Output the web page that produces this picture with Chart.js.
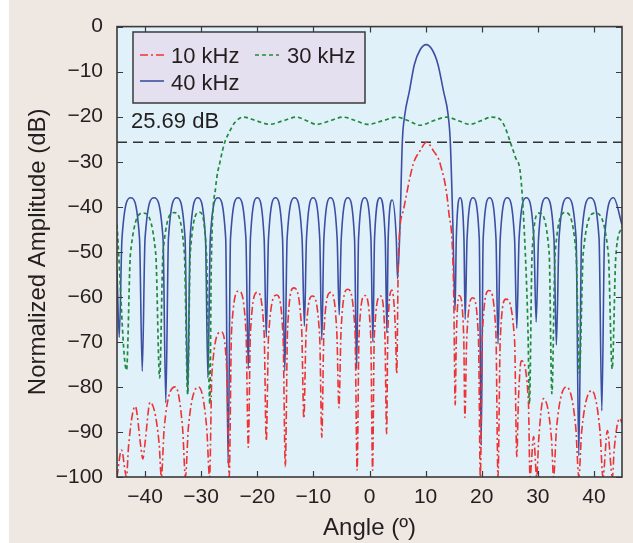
<!DOCTYPE html>
<html>
<head>
<meta charset="utf-8">
<script src="https://cdn.jsdelivr.net/npm/chart.js@4.4.1/dist/chart.umd.min.js"></script>
<style>
  html, body { margin: 0; padding: 0; background: #fff; }
  #wrap { width: 633px; height: 543px; }
</style>
</head>
<body>
<div id="wrap"><canvas id="chart" width="633" height="543"></canvas></div>
<script>
// 10 kHz (rouge, tiret-point)
const angle10 = [-45, -44.2, -43.3, -42.95, -41.75, -40.75, -40.4, -40.0, -39.1, -37.5, -37.1,
    -36.58, -34.6, -33.32, -32.8, -32.28, -30.45, -29.02, -28.5, -28.08, -26.45, -25.42, -25.0,
    -24.59, -23.3, -22.01, -21.6, -21.22, -20.0, -18.78, -18.4, -17.99, -16.55, -15.41, -15.0,
    -14.6, -13.5, -12.1, -11.7, -11.32, -10.2, -8.88, -8.5, -8.13, -6.95, -5.82, -5.45,
    -5.06, -3.9, -2.59, -2.2, -1.87, -0.85, 0.22, 0.55, 0.85, 1.95, 2.75, 3.05,
    3.27, 4.0, 4.63, 4.85, 5.15, 6.05, 7.8, 9.0, 10.15, 11.4, 12.6, 14.1, 15.0, 15.27,
    15.48, 16.0, 16.79, 17.0, 17.33, 18.4, 19.42, 19.75, 20.13, 21.3, 22.52, 22.9,
    23.3, 24.3, 25.85, 26.25, 26.53, 27.05, 28.32, 28.6, 29.25, 29.8, 30.16, 31.0, 32.44, 32.8,
    33.34, 35.1, 36.76, 37.3, 37.82, 39.6, 41.08, 41.6, 42.4, 43.3, 43.6, 44.6, 45];
const db10 = [-100, -94, -100, -93.3, -84.3, -93.3, -96, -92.4, -83.4, -92.4, -100,
    -89, -80, -89, -100, -89, -80, -89, -100, -76.8, -67.8, -76.8, -100,
    -67.7, -58.7, -67.7, -93.4, -68, -59, -68, -92, -68.6, -59.6, -68.6, -97.7,
    -67, -58, -67, -87, -68.8, -59.8, -68.8, -91.2, -68, -59, -68, -84.6,
    -67.3, -58.3, -67.3, -98.5, -68.7, -59.7, -68.7, -98.5, -68.8, -59.8, -68.8, -90.4,
    -67.5, -58.5, -67.5, -77, -51, -40.7, -30.5, -27.6, -25.69, -27.6, -30.5, -40.9, -58.5, -84,
    -68.7, -59.7, -68.7, -86.8, -69.2, -60.2, -69.2, -100, -67.6, -58.6, -67.6, -100,
    -69.5, -60.5, -69.5, -95.5, -83.2, -74.2, -83.2, -100, -91, -100, -91.6, -82.6, -91.6, -100,
    -89, -80, -89, -100, -89.8, -80.8, -89.8, -100, -89.7, -100, -94, -87, -88];

// 30 kHz (vert, pointillé)
const angle30 = [-45, -43.3, -42.6, -40.3, -38.1, -37.4, -36.8, -34.8, -33.0, -32.4,
    -31.94, -30.3, -29.06, -28.45, -28.2, -27.4, -26.6, -25.8, -24.9, -24.0,
    -22.5, -20.2, -17.8, -15.4, -13.0, -11.2, -9.4, -7.05, -4.7, -2.45, -0.2,
    2.35, 4.9, 6.95, 9.0, 11.4, 13.8, 15.85, 17.9, 19.85, 21.8,
    23.3, 24.2, 25.1, 26.0, 26.9, 27.6, 28.25, 28.5, 28.98, 30.2, 32.02, 32.5,
    33.09, 34.9, 36.81, 37.4, 38.1, 40.2, 42.55, 43.25, 43.9, 45];
const db30 = [-44, -76.3, -50.4, -41.4, -50.4, -78, -50.2, -41.3, -50.2, -81.6,
    -50.2, -41.2, -50.2, -83.8, -53, -35.5, -29.8, -25.7, -23.2, -21.3,
    -20.1, -20.9, -21.7, -20.9, -20.1, -20.9, -21.7, -20.9, -20.1, -20.9, -21.7,
    -20.9, -20.1, -20.9, -21.9, -20.9, -20.1, -20.9, -21.7, -20.9, -20.1,
    -20.6, -22.5, -25.7, -29, -32.7, -45.8, -67.8, -83.8, -50.2, -41.4, -50.2, -81.5,
    -50.2, -41.3, -50.2, -77, -50.2, -41.4, -50.2, -76, -51, -44.4];

// 40 kHz (bleu, trait plein)
const angle40 = [-45, -44.6, -44.11, -42.55, -40.99, -40.5, -40.0, -38.4, -36.8, -36.3,
    -35.83, -34.35, -32.87, -32.4, -31.97, -30.6, -29.23, -28.8, -28.37, -27, -25.63, -25.2,
    -24.77, -23.4, -22.03, -21.6, -21.22, -20, -18.78, -18.4, -18.0, -16.75, -15.5, -15.1,
    -14.68, -13.35, -12.02, -11.6, -11.23, -10.05, -8.87, -8.5, -8.13, -6.95, -5.77, -5.4,
    -5.03, -3.85, -2.67, -2.3, -1.95, -0.85, 0.25, 0.6, 0.9, 1.85, 2.8, 3.1,
    3.33, 4.05, 4.77, 5.0, 5.45, 5.85, 6.3, 7.1, 8.0, 9.0, 10.1, 11.2, 12.2, 13.2, 14.0, 14.4, 14.85, 15.25,
    15.47, 16.15, 16.83, 17.05, 17.39, 18.45, 19.56, 19.9, 20.26, 21.4, 22.54, 22.9,
    23.3, 24.55, 25.85, 26.25, 26.66, 27.95, 29.29, 29.7, 30.13, 31.5, 32.87, 33.3,
    33.78, 35.3, 36.82, 37.3, 37.79, 39.35, 40.91, 41.4, 41.89, 43.5, 45];
const db40 = [-54, -69, -47, -38, -47, -76.5, -47, -38, -47, -83.5,
    -47, -38, -47, -81.6, -47, -38, -47, -78, -47, -38, -47, -97,
    -47, -38, -47, -76, -47, -38, -47, -69, -47, -38, -47, -76.5,
    -47, -38, -47, -66.5, -47, -38, -47, -69.6, -47, -38, -47, -64,
    -47, -38, -47, -76, -47, -38, -47, -70, -47, -38, -47, -68,
    -47, -38.5, -47, -56, -43.6, -25.6, -19.5, -14.4, -8.4, -5.2, -4, -5.2, -8.4, -14.4, -19.5, -25.6, -43.6, -63,
    -47, -38, -47, -65, -47, -38, -47, -93, -47, -38, -47, -70.5,
    -47, -38, -47, -67, -47, -38, -47, -65.6, -47, -38, -47, -70.7,
    -47, -38, -47, -95.3, -47, -38, -47, -85.3, -47, -38, -44];

// ligne de référence 25.69 dB
const refAngle = [-45, 45];
const refDb = [-25.69, -25.69];

// graduations
const xTicks = [-40, -30, -20, -10, 0, 10, 20, 30, 40];
const yTicks = [-100, -90, -80, -70, -60, -50, -40, -30, -20, -10, 0];

const legendLabels = ['10 kHz', '30 kHz', '40 kHz'];
const refLabel = '25.69 dB';

const RED = '#ee3333', GREEN = '#1f8a3e', BLUE = '#3d4fa3';
const FONT = '"Liberation Sans", Arial, Helvetica, sans-serif';
const TEXT = '#231f20';

const toPoints = (xs, ys) => xs.map((x, i) => ({ x: x, y: ys[i] }));
const minus = v => (v < 0 ? '\u2212' + Math.abs(v) : String(v));

// fond, cadre, ticks intérieurs, légende, annotation
const decor = {
    id: 'decor',
    beforeDraw(chart) {
        const { ctx, chartArea: a, width, height } = chart;
        ctx.save();
        ctx.fillStyle = '#ffffff';
        ctx.fillRect(0, 0, width, height);
        ctx.fillStyle = '#efe8e2';
        ctx.fillRect(9, 0, width - 9, height);
        ctx.fillStyle = '#e0f1fa';
        ctx.fillRect(a.left, a.top, a.right - a.left, a.bottom - a.top);
        ctx.restore();
    },
    afterDatasetsDraw(chart) {
        const { ctx, chartArea: a, scales } = chart;
        ctx.save();
        ctx.strokeStyle = '#3a3a3a';
        ctx.lineWidth = 1.2;
        ctx.beginPath();
        scales.x.ticks.forEach(t => {
            const px = Math.round(scales.x.getPixelForValue(t.value)) + 0.5;
            ctx.moveTo(px, a.bottom); ctx.lineTo(px, a.bottom - 6);
            ctx.moveTo(px, a.top); ctx.lineTo(px, a.top + 6);
        });
        scales.y.ticks.forEach(t => {
            const py = Math.round(scales.y.getPixelForValue(t.value)) + 0.5;
            ctx.moveTo(a.left, py); ctx.lineTo(a.left + 6, py);
            ctx.moveTo(a.right, py); ctx.lineTo(a.right - 6, py);
        });
        ctx.stroke();
        ctx.lineWidth = 1.6;
        ctx.strokeRect(a.left, a.top, a.right - a.left, a.bottom - a.top);
        ctx.restore();
    },
    afterDraw(chart) {
        const { ctx } = chart;
        ctx.save();
        // boîte de légende
        ctx.fillStyle = '#e4e0ef';
        ctx.fillRect(133, 32, 232, 71);
        ctx.strokeStyle = '#3a3a3a';
        ctx.lineWidth = 1.5;
        ctx.strokeRect(133, 32, 232, 71);

        const sample = (x0, x1, y, color, dash) => {
            ctx.strokeStyle = color;
            ctx.lineWidth = 1.6;
            ctx.setLineDash(dash);
            ctx.beginPath();
            ctx.moveTo(x0, y); ctx.lineTo(x1, y);
            ctx.stroke();
            ctx.setLineDash([]);
        };
        sample(140, 164, 55, RED, [8, 3, 2, 3]);
        sample(255, 279, 55, GREEN, [4, 3]);
        sample(140, 164, 81, BLUE, []);

        ctx.fillStyle = TEXT;
        ctx.font = '22px ' + FONT;
        ctx.textBaseline = 'alphabetic';
        ctx.fillText(legendLabels[0], 171, 63);
        ctx.fillText(legendLabels[1], 287, 63);
        ctx.fillText(legendLabels[2], 171, 90);
        ctx.fillText(refLabel, 131, 128);
        ctx.restore();
    }
};

const chart = new Chart(document.getElementById('chart'), {
    type: 'line',
    data: {
        datasets: [
            {
                label: legendLabels[0],
                data: toPoints(angle10, db10),
                borderColor: RED,
                borderWidth: 1.6,
                borderDash: [8, 3, 2, 3],
                order: 0
            },
            {
                label: legendLabels[1],
                data: toPoints(angle30, db30),
                borderColor: GREEN,
                borderWidth: 1.7,
                borderDash: [4, 3],
                order: 1
            },
            {
                label: legendLabels[2],
                data: toPoints(angle40, db40),
                borderColor: BLUE,
                borderWidth: 1.6,
                order: 2
            },
            {
                label: refLabel,
                data: toPoints(refAngle, refDb),
                borderColor: '#333333',
                borderWidth: 1.5,
                borderDash: [10, 6],
                cubicInterpolationMode: 'default',
                tension: 0,
                order: 3
            }
        ]
    },
    options: {
        responsive: false,
        animation: false,
        events: [],
        layout: { padding: { left: 0, top: 21, right: 11, bottom: 0 } },
        elements: {
            point: { radius: 0 },
            line: { cubicInterpolationMode: 'monotone', fill: false }
        },
        plugins: {
            legend: { display: false },
            tooltip: { enabled: false }
        },
        scales: {
            x: {
                type: 'linear',
                min: -45,
                max: 45,
                afterBuildTicks: s => { s.ticks = xTicks.map(v => ({ value: v })); },
                afterFit: s => { s.height = 66; },
                grid: { display: false, drawTicks: false },
                border: { display: false },
                ticks: {
                    maxRotation: 0,
                    autoSkip: false,
                    padding: 8,
                    color: TEXT,
                    font: { family: FONT, size: 21 },
                    callback: v => minus(v)
                },
                title: {
                    display: true,
                    text: 'Angle (º)',
                    color: TEXT,
                    font: { family: FONT, size: 24 },
                    padding: { top: 0, bottom: 0 }
                }
            },
            y: {
                type: 'linear',
                min: -100,
                max: 0,
                afterBuildTicks: s => { s.ticks = yTicks.map(v => ({ value: v })); },
                afterFit: s => { s.width = 117; },
                grid: { display: false, drawTicks: false },
                border: { display: false },
                ticks: {
                    autoSkip: false,
                    padding: 14,
                    color: TEXT,
                    font: { family: FONT, size: 21 },
                    callback: v => minus(v)
                },
                title: {
                    display: true,
                    text: 'Normalized Amplitude (dB)',
                    color: TEXT,
                    font: { family: FONT, size: 24 },
                    padding: { top: 24, bottom: 0 }
                }
            }
        }
    },
    plugins: [decor]
});
</script>
</body>
</html>
